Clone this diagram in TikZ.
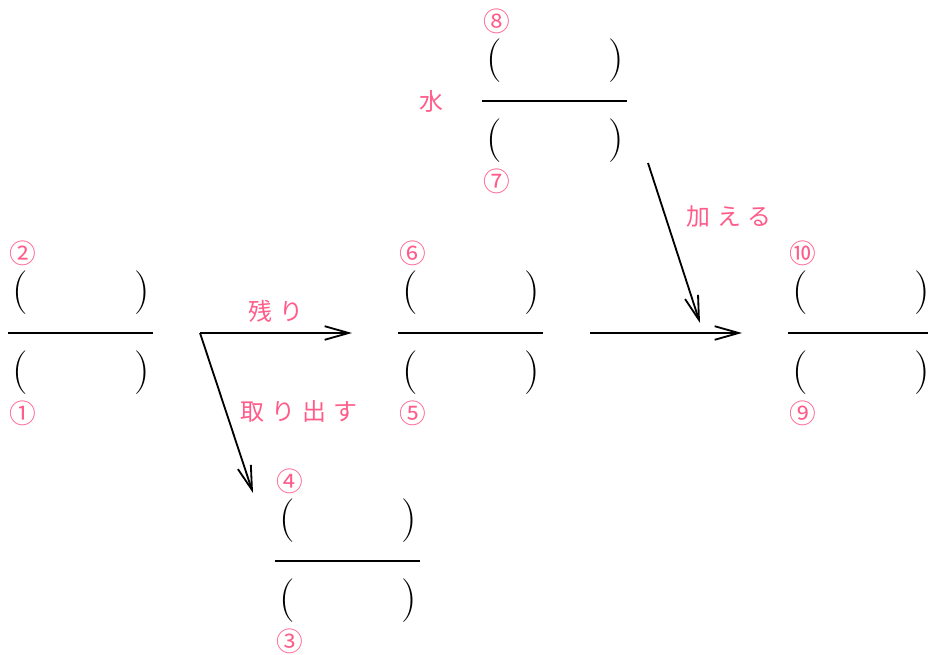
\documentclass[tikz,border=0pt]{standalone}
\usepackage{fontspec}
\newfontfamily\jp[LetterSpace=30]{Noto Sans CJK JP}
\usetikzlibrary{arrows.meta}
\definecolor{notepink}{RGB}{255,92,138}

\tikzset{
  paren/.style={inner sep=0pt, font=\fontsize{31}{31}\selectfont},
  num/.style={inner sep=0pt, text=notepink, font=\jp\fontsize{19}{19}\selectfont},
  word/.style={inner sep=0pt, text=notepink, font=\jp\fontsize{17}{17}\selectfont},
  bar/.style={line width=1.3pt},
  flow/.style={line width=1.3pt, -{Straight Barb[length=6mm,width=3.4mm,line width=1.3pt]}},
}

\begin{document}
\begin{tikzpicture}[x=0.25mm,y=-0.25mm]
\useasboundingbox (0,0) rectangle (928,655);

% the five fractions: name / left end / bar height / upper mark / lower mark
\foreach \n/\x/\y/\up/\lo in {a/8/333/②/①, b/398/333/⑥/⑤, c/788/333/⑩/⑨, d/275/561/④/③, e/482/101/⑧/⑦}{
  \draw[bar] (\x,\y) -- ++(145,0);
  \node[paren] (\n-ul) at (\x+12,\y-40) {(};
  \node[paren] (\n-ur) at (\x+134,\y-40) {)};
  \node[paren] (\n-ll) at (\x+12,\y+40) {(};
  \node[paren] (\n-lr) at (\x+134,\y+40) {)};
  \node[num] (\n-up) at (\x+15,\y-80) {\up};
  \node[num] (\n-lo) at (\x+15,\y+80) {\lo};
}

% water
\node[word] (water) at (431,101) {水};

% arrow ends
\coordinate (fork) at (200,333);
\coordinate (rest-end) at (352,333);
\coordinate (take-end) at (253,493);
\coordinate (join) at (590,333);
\coordinate (join-end) at (742,333);
\coordinate (add-start) at (648,163);
\coordinate (add-end) at (700,323);

% arrows
\draw[flow] (fork) -- (rest-end);
\draw[flow] (fork) -- (take-end);
\draw[flow] (join) -- (join-end);
\draw[flow] (add-start) -- (add-end);

% labels
\node[word] (rest) at (276,311) {残り};
\node[word] (take) at (299,411) {取り出す};
\node[word] (add) at (729,217) {加える};

\end{tikzpicture}
\end{document}
